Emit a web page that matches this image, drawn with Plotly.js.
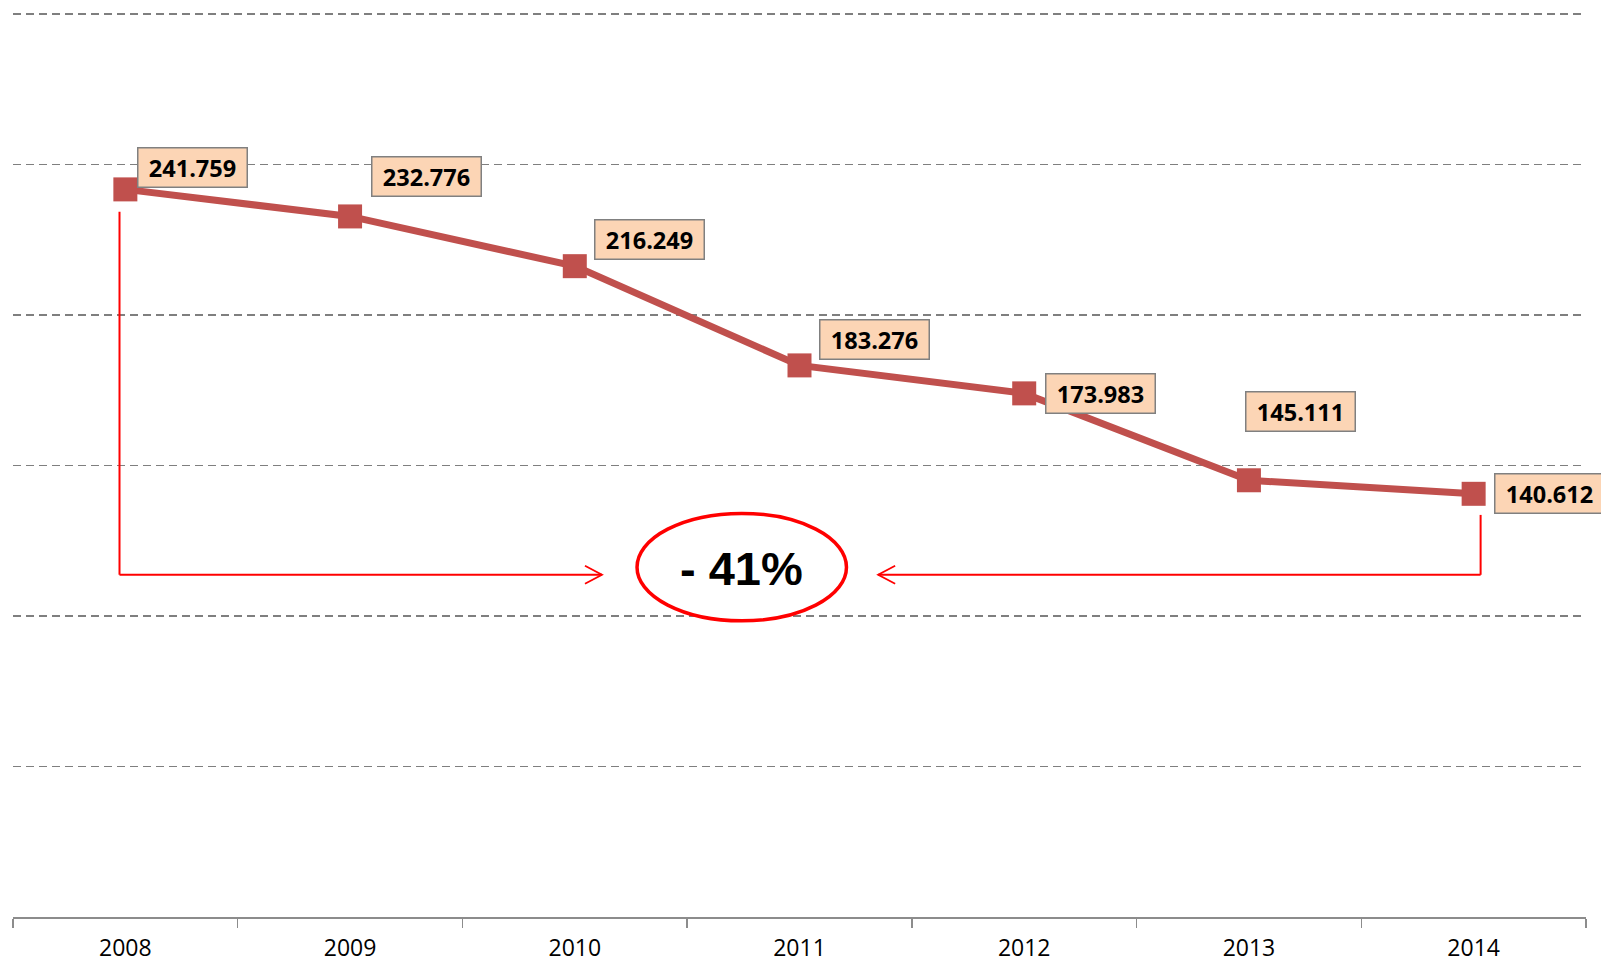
<!DOCTYPE html>
<html>
<head>
<meta charset="utf-8">
<script src="https://cdn.plot.ly/plotly-3.0.1.min.js"></script>
<style>
  html, body { margin: 0; padding: 0; background: #fff; }
  #chart { width: 1601px; height: 963px; }
</style>
</head>
<body>
<div id="chart"></div>
<script>
// ---- data ----
const years = ['2008', '2009', '2010', '2011', '2012', '2013', '2014'];
const values = [241.759, 232.776, 216.249, 183.276, 173.983, 145.111, 140.612];
const yGridVals = [50, 100, 150, 200, 250, 300];
const changeLabel = '- 41%';

// ---- label offsets (pixels, style only) ----
const labelShiftX = [67, 76, 75, 75, 76, 52, 76];
const labelShiftY = [22, 40, 27, 26, 0, 69, 0];

const lineColor = '#C0504D';
const red = '#FF0000';

const trace = {
  x: years,
  y: values,
  type: 'scatter',
  mode: 'lines+markers',
  line: { color: lineColor, width: 7 },
  marker: { symbol: 'square', size: 24, color: lineColor },
  cliponaxis: false,
  hoverinfo: 'skip'
};

const annotations = values.map((v, i) => ({
  x: i,
  y: v,
  xref: 'x',
  yref: 'y',
  text: '<b>' + v.toFixed(3) + '</b>',
  showarrow: false,
  xshift: labelShiftX[i],
  yshift: labelShiftY[i],
  bgcolor: '#FCD5B5',
  bordercolor: '#808080',
  borderwidth: 1.5,
  borderpad: 3,
  width: 102,
  height: 32,
  font: { family: 'Open Sans, sans-serif', size: 23.5, color: '#000' }
}));

// ---- decorative bracket / ellipse (positions in axis units) ----
const yBar = 113.7;
const xL = -0.026, xR = 6.031;
const tipL = 2.121, tipR = 3.35;
const cw = 0.0757, ch = 2.99;
const shapes = [
  { type: 'line', xref: 'x', yref: 'y', x0: xL, x1: xL, y0: 234.3, y1: yBar, line: { color: red, width: 2 } },
  { type: 'line', xref: 'x', yref: 'y', x0: xL, x1: tipL, y0: yBar, y1: yBar, line: { color: red, width: 2 } },
  { type: 'path', xref: 'x', yref: 'y',
    path: `M ${tipL - cw} ${yBar + ch} L ${tipL} ${yBar} L ${tipL - cw} ${yBar - ch}`,
    line: { color: red, width: 1.8 } },
  { type: 'line', xref: 'x', yref: 'y', x0: xR, x1: xR, y0: 133.6, y1: yBar, line: { color: red, width: 2 } },
  { type: 'line', xref: 'x', yref: 'y', x0: tipR, x1: xR, y0: yBar, y1: yBar, line: { color: red, width: 2 } },
  { type: 'path', xref: 'x', yref: 'y',
    path: `M ${tipR + cw} ${yBar + ch} L ${tipR} ${yBar} L ${tipR + cw} ${yBar - ch}`,
    line: { color: red, width: 1.8 } },
  { type: 'circle', xref: 'x', yref: 'y', x0: 2.277, x1: 3.209, y0: 98.4, y1: 134.1,
    line: { color: red, width: 3.5 }, fillcolor: 'rgba(255,255,255,1)' }
];

annotations.push({
  x: 2.744, y: 115.9, xref: 'x', yref: 'y',
  text: '<b>' + changeLabel + '</b>',
  showarrow: false,
  font: { family: 'Liberation Sans, Arial, sans-serif', size: 47, color: '#000' }
});

const layout = {
  width: 1601,
  height: 963,
  margin: { l: 13, r: 15, t: 12, b: 46 },
  paper_bgcolor: '#fff',
  plot_bgcolor: '#fff',
  showlegend: false,
  xaxis: {
    type: 'category',
    range: [-0.5, 6.5],
    tickson: 'boundaries',
    ticks: 'outside',
    ticklen: 9,
    tickwidth: 1.5,
    tickcolor: '#8c8c8c',
    showline: true,
    linecolor: '#8c8c8c',
    linewidth: 1.5,
    showgrid: false,
    zeroline: false,
    ticklabelstandoff: 10,
    tickfont: { family: 'Open Sans, sans-serif', size: 23, color: '#000' }
  },
  yaxis: {
    range: [0, 300.7],
    tickmode: 'array',
    tickvals: yGridVals,
    showticklabels: false,
    showgrid: true,
    gridcolor: '#7f7f7f',
    gridwidth: 1.5,
    griddash: '8px,5px',
    zeroline: false,
    showline: false,
    fixedrange: true
  },
  shapes: shapes,
  annotations: annotations
};

Plotly.newPlot('chart', [trace], layout, { displayModeBar: false, staticPlot: true });
</script>
</body>
</html>
